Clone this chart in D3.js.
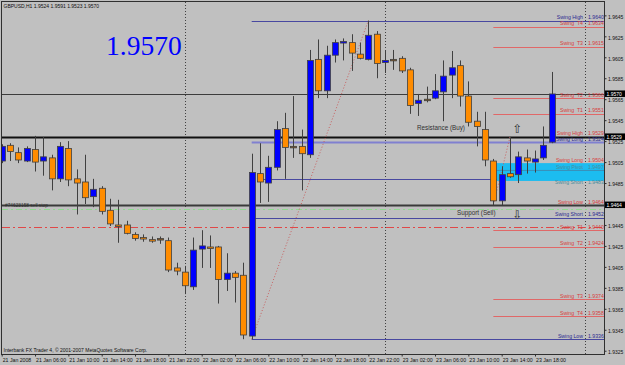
<!DOCTYPE html>
<html><head><meta charset="utf-8">
<script src="https://cdn.jsdelivr.net/npm/d3@7"></script>
<style>body{margin:0;background:#c0c0c0}svg{display:block}</style>
</head><body><svg id="c" width="625" height="365"></svg>
<script>
const titleText = "GBPUSD,H1 1.9524 1.9591 1.9523 1.9570";
const copyrightText = "Interbank FX Trader 4, \u00a9 2001-2007 MetaQuotes Software Corp.";
const bigPrice = "1.9570";
const firstBar = new Date(2008, 0, 21, 2);
const open  = [1.9506,1.9521,1.9514,1.9506,1.9517,1.9506,1.9509,1.9489,1.9518,1.9489,1.9486,1.9472,1.9480,1.9459,1.9445,1.9445,1.9436,1.9433,1.9431,1.9432,1.9430,1.9404,1.9400,1.9386,1.9422,1.9424,1.9424,1.9393,1.9399,1.9397,1.9339,1.9494,1.9485,1.9500,1.9537,1.9520,1.9520,1.9512,1.9603,1.9573,1.9607,1.9619,1.9619,1.9608,1.9603,1.9627,1.9600,1.9603,1.9604,1.9593,1.9561,1.9565,1.9566,1.9572,1.9588,1.9597,1.9568,1.9544,1.9536,1.9506,1.9468,1.9494,1.9493,1.9509,1.9505,1.9509,1.9524];
const high  = [1.9522,1.9523,1.9519,1.9520,1.9530,1.9529,1.9512,1.9524,1.9525,1.9498,1.9512,1.9489,1.9482,1.9470,1.9469,1.9449,1.9438,1.9436,1.9434,1.9434,1.9433,1.9409,1.9406,1.9433,1.9440,1.9435,1.9425,1.9418,1.9401,1.9409,1.9513,1.9523,1.9511,1.9544,1.9552,1.9568,1.9536,1.9612,1.9622,1.9616,1.9622,1.9623,1.9627,1.9619,1.9640,1.9630,1.9611,1.9612,1.9606,1.9595,1.9570,1.9577,1.9589,1.9602,1.9611,1.9602,1.9582,1.9553,1.9553,1.9508,1.9501,1.9529,1.9515,1.9517,1.9516,1.9539,1.9591];
const low   = [1.9504,1.9506,1.9504,1.9505,1.9496,1.9492,1.9478,1.9486,1.9482,1.9455,1.9465,1.9462,1.9455,1.9444,1.9428,1.9436,1.9430,1.9429,1.9428,1.9427,1.9400,1.9397,1.9379,1.9383,1.9404,1.9404,1.9370,1.9382,1.9371,1.9336,1.9336,1.9466,1.9467,1.9497,1.9489,1.9509,1.9478,1.9509,1.9566,1.9566,1.9600,1.9602,1.9592,1.9603,1.9602,1.9585,1.9590,1.9593,1.9590,1.9551,1.9549,1.9562,1.9565,1.9544,1.9566,1.9558,1.9539,1.9520,1.9501,1.9464,1.9464,1.9490,1.9485,1.9494,1.9495,1.9507,1.9523];
const close = [1.9520,1.9515,1.9507,1.9518,1.9505,1.9510,1.9489,1.9520,1.9488,1.9485,1.9471,1.9479,1.9458,1.9446,1.9444,1.9437,1.9432,1.9432,1.9430,1.9432,1.9402,1.9401,1.9387,1.9421,1.9425,1.9423,1.9393,1.9399,1.9395,1.9340,1.9495,1.9486,1.9500,1.9536,1.9519,1.9520,1.9513,1.9602,1.9573,1.9607,1.9619,1.9620,1.9609,1.9604,1.9626,1.9599,1.9602,1.9603,1.9592,1.9559,1.9564,1.9565,1.9573,1.9587,1.9595,1.9568,1.9543,1.9539,1.9507,1.9468,1.9493,1.9491,1.9510,1.9506,1.9508,1.9521,1.9570];
const priceTicks = [1.9645,1.9625,1.9605,1.9585,1.9565,1.9545,1.9525,1.9505,1.9485,1.9465,1.9445,1.9425,1.9405,1.9385,1.9365,1.9345,1.9325];
const dateLabels = ["21 Jan 2008","21 Jan 06:00","21 Jan 10:00","21 Jan 14:00","21 Jan 18:00","21 Jan 22:00","22 Jan 02:00","22 Jan 06:00","22 Jan 10:00","22 Jan 14:00","22 Jan 18:00","22 Jan 22:00","23 Jan 02:00","23 Jan 06:00","23 Jan 10:00","23 Jan 14:00","23 Jan 18:00"];
const dateTickBars = [0,4,8,12,16,20,24,28,32,36,40,44,48,52,56,60,64];
const separatorBars = [22,46,70];
// swing levels drawn from a bar to the right edge, labelled at the right
const levelNames  = ["Swing High","Swing  T4","Swing  T3","Swing  T2","Swing  T1","Swing High","Swing Long","Swing Long","Swing Pivot","Swing Short","Swing Low","Swing Short","Swing  T1","Swing  T2","Swing  T3","Swing  T4","Swing Low"];
const levelValues = [1.9640,1.9634,1.9615,1.9566,1.9551,1.9529,1.9524,1.9504,1.9497,1.9483,1.9464,1.9452,1.9440,1.9424,1.9374,1.9358,1.9336];
const levelFromBar= [30,59,59,59,59,59,30,null,null,null,null,30,59,59,59,59,30];
const levelKind   = ["navy","red","red","red","red","red","lav","redtext","box","box","redtext","navy","red","red","red","red","navy"];
const extraNavy = {value:1.9489, fromBar:31};
// full width lines
const priceLine = 1.9570, resistance = 1.9529, support = 1.9464, sellStop = 1.9460, stopLine = 1.9443;
const zoneTop = 1.9504, zoneMid = 1.9497, zoneBottom = 1.9487, zoneFromBar = 59.4;
const swingLegs = [[30,1.9336,44,1.9640],[59,1.9464,61,1.9529]];
const orderText = "#74623158 sell stop";

const svg = d3.select("#c");
const P = {l:2,t:2,r:604,b:354};
const hour = 3600e3;
const barTime = i => new Date(+firstBar + i*hour);
const x = d3.scaleTime().domain([firstBar, barTime(72)]).range([1.7, 1.7 + 72*8.333]);
const y = d3.scaleLinear().domain([1.9640, 1.9336]).range([20.6, 20.6 + 304*1.048]);
const FONT = "Liberation Sans, Arial, sans-serif";

svg.append("rect").attr("width",625).attr("height",365).attr("fill","#c0c0c0");
svg.append("defs").append("clipPath").attr("id","pc").append("rect")
  .attr("x",P.l).attr("y",P.t).attr("width",P.r-P.l).attr("height",P.b-P.t);
const g = svg.append("g").attr("clip-path","url(#pc)");

// separators
g.selectAll(".sep").data(separatorBars).join("line")
  .attr("x1",d=>x(barTime(d))+0.5).attr("x2",d=>x(barTime(d))+0.5).attr("y1",P.t).attr("y2",P.b)
  .attr("stroke","#404040").attr("stroke-dasharray","1,2");

// cyan zone
g.append("rect").attr("x",x(barTime(zoneFromBar))).attr("y",y(zoneTop))
  .attr("width",P.r - x(barTime(zoneFromBar))).attr("height",y(zoneBottom)-y(zoneTop))
  .attr("fill","#1cbcf0");
g.append("line").attr("x1",x(barTime(zoneFromBar))).attr("x2",P.r).attr("y1",y(zoneMid)).attr("y2",y(zoneMid))
  .attr("stroke","#3a90b8").attr("stroke-width",1);

// full width lines
const fw = (v,col,w,dash)=> g.append("line").attr("x1",P.l).attr("x2",P.r).attr("y1",Math.round(y(v))+0.5).attr("y2",Math.round(y(v))+0.5)
  .attr("stroke",col).attr("stroke-width",w).attr("stroke-dasharray",dash||null);
fw(priceLine,"#3c3c3c",1);
fw(stopLine,"#e04848",1,"8,3,2,3");
fw(sellStop,"#8fd88f",1,"6,3,2,3");

// swing levels
const levColor = {navy:"#4848a0", red:"#e06868", lav:"#8080d0"};
const levW = {navy:1, red:1, lav:2};
levelValues.forEach((v,i)=>{
  const k = levelKind[i];
  if(levelFromBar[i]===null) return;
  g.append("line").attr("x1",x(barTime(levelFromBar[i]))).attr("x2",P.r)
   .attr("y1",Math.round(y(v))+0.5).attr("y2",Math.round(y(v))+0.5)
   .attr("stroke",levColor[k]).attr("stroke-width",levW[k]);
});
g.append("line").attr("x1",x(barTime(extraNavy.fromBar))).attr("x2",x(barTime(zoneFromBar)))
  .attr("y1",Math.round(y(extraNavy.value))+0.5).attr("y2",Math.round(y(extraNavy.value))+0.5)
  .attr("stroke","#4848a0");

fw(resistance,"#101010",2);
fw(support,"#3a3a3a",2);

// swing legs
g.selectAll(".leg").data(swingLegs).join("line")
  .attr("x1",d=>x(barTime(d[0]))).attr("y1",d=>y(d[1])).attr("x2",d=>x(barTime(d[2]))).attr("y2",d=>y(d[3]))
  .attr("stroke","#c86060").attr("stroke-dasharray","1,2");

// candles
const bars = open.map((o,i)=>({i,o,h:high[i],l:low[i],c:close[i]}));
const cg = g.append("g");
cg.selectAll(".wick").data(bars).join("line")
  .attr("x1",d=>Math.round(x(barTime(d.i)))+0.5).attr("x2",d=>Math.round(x(barTime(d.i)))+0.5)
  .attr("y1",d=>y(d.h)).attr("y2",d=>y(d.l)).attr("stroke","#404040");
cg.selectAll(".body").data(bars).join("rect")
  .attr("x",d=>Math.round(x(barTime(d.i)))-2.5).attr("width",6)
  .attr("y",d=>y(Math.max(d.o,d.c))).attr("height",d=>Math.max(1.5,Math.abs(y(d.o)-y(d.c))))
  .attr("fill",d=>d.c>d.o?"#0000ff":d.c<d.o?"#ff8c00":"#8a5a20")
  .attr("stroke","#404040").attr("stroke-width",0.8);

// level labels
const txtColor = {navy:"#2a2a90", red:"#d83c3c", lav:"#2a2a90", redtext:"#d83c3c", box:"#4a8c9c"};
levelValues.forEach((v,i)=>{
  const k = levelKind[i];
  const yy = y(v) - 1.5;
  svg.append("text").attr("x",583).attr("y",yy).attr("text-anchor","end")
    .attr("font-family",FONT).attr("font-size",5.2).attr("fill",txtColor[k]).attr("xml:space","preserve").text(levelNames[i]);
  svg.append("text").attr("x",588).attr("y",yy)
    .attr("font-family",FONT).attr("font-size",5.2).attr("fill",txtColor[k]).text(d3.format(".4f")(v));
});

// annotations
svg.append("text").attr("x",417).attr("y",y(resistance)-7).attr("font-family",FONT).attr("font-size",6.3).attr("fill","#303030").text("Resistance (Buy)");
svg.append("text").attr("x",457).attr("y",y(support)+10).attr("font-family",FONT).attr("font-size",6.3).attr("fill","#303030").text("Support (Sell)");
svg.append("text").attr("x",517.5).attr("y",y(resistance)-4).attr("text-anchor","middle").attr("font-family","DejaVu Sans").attr("font-size",12).attr("fill","#303030").text("\u21e7");
svg.append("text").attr("x",517.5).attr("y",y(support)+14).attr("text-anchor","middle").attr("font-family","DejaVu Sans").attr("font-size",12).attr("fill","#303030").text("\u21e9");
svg.append("text").attr("x",5).attr("y",y(sellStop)-2.5).attr("font-family",FONT).attr("font-size",4.8).attr("fill","#303030").text(orderText);

// frame
svg.append("rect").attr("x",P.l-0.5).attr("y",P.t-0.5).attr("width",P.r-P.l+1).attr("height",P.b-P.t+1)
  .attr("fill","none").attr("stroke","#303030");

// axes
const ay = svg.append("g").attr("transform",`translate(${P.r+0.5},0)`)
  .call(d3.axisRight(y).tickValues(priceTicks).tickSize(2).tickPadding(1.5).tickFormat(d3.format(".4f")));
ay.select(".domain").remove();
ay.selectAll("text").attr("font-family",FONT).attr("font-size",5).attr("fill","#101010").attr("dy","0.55em");
ay.selectAll("line").attr("stroke","#303030");

const ax = svg.append("g").attr("transform",`translate(0,${P.b+0.5})`)
  .call(d3.axisBottom(x).tickValues(dateTickBars.map(barTime)).tickSize(2).tickFormat((d,i)=>dateLabels[i]));
ax.select(".domain").remove();
ax.selectAll("text").attr("font-family",FONT).attr("font-size",5.2).attr("fill","#101010")
  .attr("text-anchor","start").attr("dx",0.5).attr("y",4);
ax.selectAll("line").attr("stroke","#303030");

// price boxes
[priceLine,resistance,support].forEach(v=>{
  svg.append("rect").attr("x",P.r+1).attr("y",y(v)-3.5).attr("width",20).attr("height",6.5).attr("fill","#000");
  svg.append("text").attr("x",P.r+2.5).attr("y",y(v)+1.8).attr("font-family",FONT).attr("font-size",5).attr("fill","#fff").text(d3.format(".4f")(v));
});

// texts
svg.append("text").attr("x",3.5).attr("y",8).attr("font-family",FONT).attr("font-size",5).attr("fill","#101010").text(titleText);
svg.append("text").attr("x",3.5).attr("y",352).attr("font-family",FONT).attr("font-size",5).attr("fill","#101010").text(copyrightText);
svg.append("text").attr("x",106).attr("y",55).attr("font-family","Liberation Serif, Times New Roman, serif").attr("font-size",27.5).attr("fill","#0000ff").text(bigPrice);
</script></body></html>
